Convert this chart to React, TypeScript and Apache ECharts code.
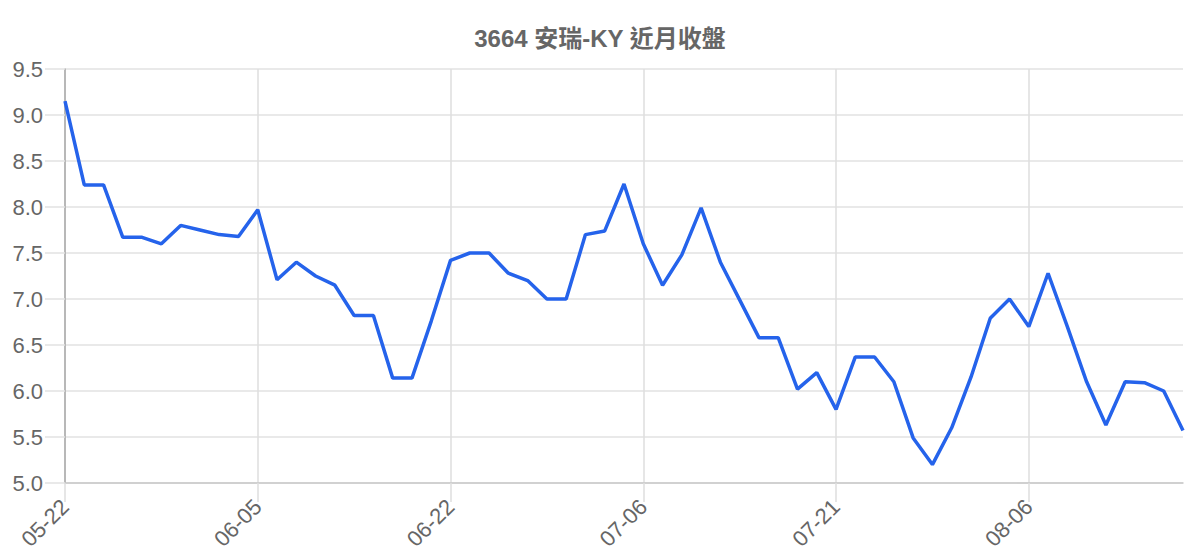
import { useEffect, useRef } from 'react';
import * as echarts from 'echarts';

const TITLE = '3664 安瑞-KY 近月收盤';

// trading dates (labels shown every 10th point)
const dates = [
  '05-22', '05-23', '05-24', '05-27', '05-28', '05-29', '05-30', '05-31', '06-03', '06-04',
  '06-05', '06-06', '06-07', '06-11', '06-12', '06-13', '06-14', '06-17', '06-18', '06-20',
  '06-22', '06-25', '06-26', '06-27', '06-28', '07-01', '07-02', '07-03', '07-04', '07-05',
  '07-06', '07-08', '07-09', '07-10', '07-11', '07-12', '07-15', '07-16', '07-17', '07-18',
  '07-21', '07-23', '07-24', '07-25', '07-26', '07-29', '07-30', '07-31', '08-01', '08-02',
  '08-06', '08-07', '08-08', '08-09', '08-12', '08-13', '08-14', '08-15', '08-16',
];

const closes = [
  9.15, 8.24, 8.24, 7.67, 7.67, 7.6, 7.8, 7.75, 7.7, 7.68,
  7.97, 7.21, 7.4, 7.25, 7.15, 6.82, 6.82, 6.14, 6.14, 6.76,
  7.42, 7.5, 7.5, 7.28, 7.2, 7.0, 7.0, 7.7, 7.74, 8.25,
  7.6, 7.15, 7.48, 7.99, 7.4, 6.99, 6.58, 6.58, 6.02, 6.2,
  5.8, 6.37, 6.37, 6.1, 5.49, 5.2, 5.6, 6.15, 6.79, 7.0,
  6.7, 7.28, 6.7, 6.1, 5.63, 6.1, 6.09, 6.0, 5.57,
];

const Y_MIN = 5;
const Y_MAX = 9.5;
const Y_STEP = 0.5;

const FONT = '"Liberation Sans", Arial, "Noto Sans CJK TC", sans-serif';

export default function App() {
  const chartRef = useRef<HTMLDivElement>(null);

  useEffect(() => {
    document.body.style.margin = '0';
    if (!chartRef.current) return;
    const chart = echarts.init(chartRef.current, undefined, { renderer: 'svg' });

    const option: echarts.EChartsOption = {
      animation: false,
      backgroundColor: '#ffffff',
      textStyle: { fontFamily: FONT },
      title: {
        text: TITLE,
        left: 'center',
        top: 21,
        textStyle: {
          color: '#666666',
          fontSize: 24,
          fontWeight: 'bold',
          fontFamily: FONT,
        },
      },
      grid: {
        left: 65,
        right: 17,
        top: 69,
        bottom: 77,
        containLabel: false,
      },
      xAxis: {
        type: 'category',
        data: dates,
        boundaryGap: false,
        axisLine: { show: true, lineStyle: { color: '#c8c8c8', width: 1.5 } },
        axisTick: {
          show: true,
          interval: 9,
          length: 19,
          lineStyle: { color: '#dedede', width: 1.5 },
        },
        axisLabel: {
          interval: 9,
          rotate: 45,
          margin: 20,
          color: '#666666',
          fontSize: 22,
          fontFamily: FONT,
        },
        splitLine: {
          show: true,
          interval: 9,
          lineStyle: { color: '#dedede', width: 1.5 },
        },
      },
      yAxis: {
        type: 'value',
        min: Y_MIN,
        max: Y_MAX,
        interval: Y_STEP,
        axisLine: { show: true, lineStyle: { color: '#a8a8a8', width: 1.5 } },
        axisTick: {
          show: true,
          length: 20,
          lineStyle: { color: '#e2e2e2', width: 1.5 },
        },
        axisLabel: {
          margin: 22,
          color: '#666666',
          fontSize: 22,
          fontFamily: FONT,
          formatter: (v: number) => v.toFixed(1),
        },
        splitLine: {
          show: true,
          lineStyle: { color: '#e2e2e2', width: 1.5 },
        },
      },
      series: [
        {
          name: '收盤',
          type: 'line',
          data: closes,
          showSymbol: false,
          symbol: 'none',
          lineStyle: { color: '#2563eb', width: 3.5 },
          itemStyle: { color: '#2563eb' },
        },
      ],
    };

    chart.setOption(option, true);

    return () => {
      chart.dispose();
    };
  }, []);

  return <div ref={chartRef} style={{ width: 1200, height: 560 }} />;
}
